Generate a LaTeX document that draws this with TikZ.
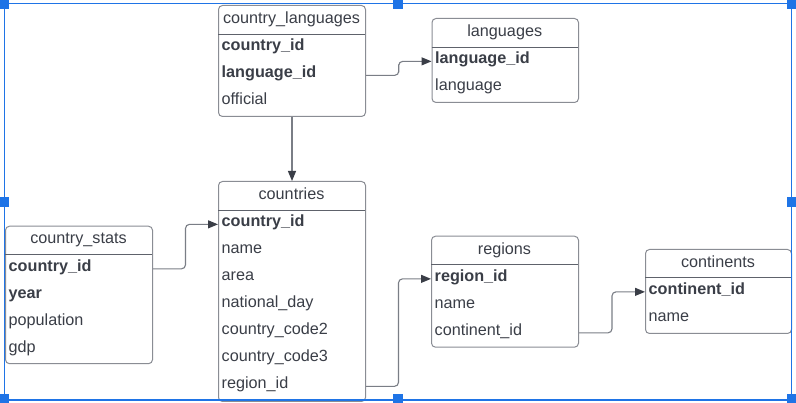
\documentclass[tikz,border=0pt]{standalone}
\usepackage{fontspec}
\setmainfont{Liberation Sans}
\usetikzlibrary{arrows.meta,calc}
\definecolor{bordc}{HTML}{8A8D94}
\definecolor{divc}{HTML}{5E626B}
\definecolor{txtc}{HTML}{3A3E47}
\definecolor{connc}{HTML}{7A7E86}
\definecolor{headc}{HTML}{3A3E47}
\definecolor{selc}{HTML}{1F74E6}
\tikzset{
  tbl/.style={draw=bordc, line width=1pt, rounded corners=4pt, anchor=north west, inner sep=0pt, fill=white},
  hdr/.style={anchor=base, inner sep=0pt, text=txtc, font=\fontsize{16.2}{19}\selectfont},
  row/.style={anchor=base west, inner sep=0pt, text=txtc, font=\fontsize{16.2}{19}\selectfont},
  key/.style={row, font=\fontsize{16.2}{19}\selectfont\bfseries},
  divl/.style={draw=divc, line width=1pt},
  conn/.style={draw=connc, line width=1.1pt, rounded corners=4pt, -{Triangle[length=10pt,width=8pt,fill=headc,color=headc]}},
  selline/.style={draw=selc, line width=1.4pt},
  handle/.style={fill=selc}
}
\begin{document}
\begin{tikzpicture}[x=1pt,y=-1pt]
\useasboundingbox (0,0) rectangle (796,403);
\fill[white] (0,0) rectangle (796,403);

% country_languages
\node[tbl, minimum width=147pt, minimum height=111pt] (cl) at (218,5) {};
\node[hdr] (cl-h) at (291.5,24) {country\_languages};
\draw[divl] (218,34.5) -- (365,34.5);
\node[key] (cl-cid) at (221.5,51) {country\_id};
\node[key] (cl-lid) at (221.5,78) {language\_id};
\node[row] (cl-off) at (221.5,105) {official};

% languages
\node[tbl, minimum width=146.5pt, minimum height=84pt] (lang) at (431.5,18) {};
\node[hdr] (lang-h) at (504.75,37) {languages};
\draw[divl] (431.5,47.5) -- (578,47.5);
\node[key] (lang-lid) at (435,64) {language\_id};
\node[row] (lang-l) at (435,91) {language};

% countries
\node[tbl, minimum width=147pt, minimum height=220pt] (co) at (218,181) {};
\node[hdr] (co-h) at (291.5,199.5) {countries};
\draw[divl] (218,210.5) -- (365,210.5);
\node[key] (co-cid) at (221.5,227) {country\_id};
\node[row] (co-name) at (221.5,254) {name};
\node[row] (co-area) at (221.5,281) {area};
\node[row] (co-nd) at (221.5,308) {national\_day};
\node[row] (co-c2) at (221.5,335) {country\_code2};
\node[row] (co-c3) at (221.5,362) {country\_code3};
\node[row] (co-rid) at (221.5,389) {region\_id};

% country_stats
\node[tbl, minimum width=147pt, minimum height=137.5pt] (cs) at (5,225.7) {};
\node[hdr] (cs-h) at (78.5,244) {country\_stats};
\draw[divl] (5,255) -- (152,255);
\node[key] (cs-cid) at (8.5,271.5) {country\_id};
\node[key] (cs-yr) at (8.5,298.5) {year};
\node[row] (cs-pop) at (8.5,325.5) {population};
\node[row] (cs-gdp) at (8.5,352.5) {gdp};

% regions
\node[tbl, minimum width=147pt, minimum height=111pt] (re) at (431,235.7) {};
\node[hdr] (re-h) at (504.5,254.5) {regions};
\draw[divl] (431,265) -- (578,265);
\node[key] (re-rid) at (434.5,281.5) {region\_id};
\node[row] (re-name) at (434.5,308.5) {name};
\node[row] (re-cid) at (434.5,335.5) {continent\_id};

% continents
\node[tbl, minimum width=146pt, minimum height=84pt] (ct) at (645,249) {};
\node[hdr] (ct-h) at (718,268) {continents};
\draw[divl] (645,278) -- (791,278);
\node[key] (ct-cid) at (648.5,294.5) {continent\_id};
\node[row] (ct-name) at (648.5,321.5) {name};

% connectors
\coordinate (a1) at (cl.east |- cl-lid.mid);
\coordinate (b1) at (lang.west |- lang-lid.mid);
\draw[conn] (a1) -| ($(a1)!.5!(b1)$) |- (b1);

\draw[conn] (cl.south) -- (co.north);

\coordinate (a2) at (cs.east |- cs-cid.mid);
\coordinate (b2) at (co.west |- co-cid.mid);
\draw[conn] (a2) -| ($(a2)!.5!(b2)$) |- (b2);

\coordinate (a3) at (co.east |- co-rid.mid);
\coordinate (b3) at (re.west |- re-rid.mid);
\draw[conn] (a3) -| ($(a3)!.5!(b3)$) |- (b3);

\coordinate (a4) at (re.east |- re-cid.mid);
\coordinate (b4) at (ct.west |- ct-cid.mid);
\draw[conn] (a4) -| ($(a4)!.5!(b4)$) |- (b4);

% selection frame
\draw[selline] (4.2,3.3) rectangle (791.3,400);
\foreach \hx/\hy in {4/4, 398/4, 791.3/4, 4/202, 791.3/202, 4/399, 398/399, 791.3/399}
  \fill[handle] (\hx-4.8,\hy-4.8) rectangle (\hx+4.8,\hy+4.8);
\end{tikzpicture}
\end{document}
